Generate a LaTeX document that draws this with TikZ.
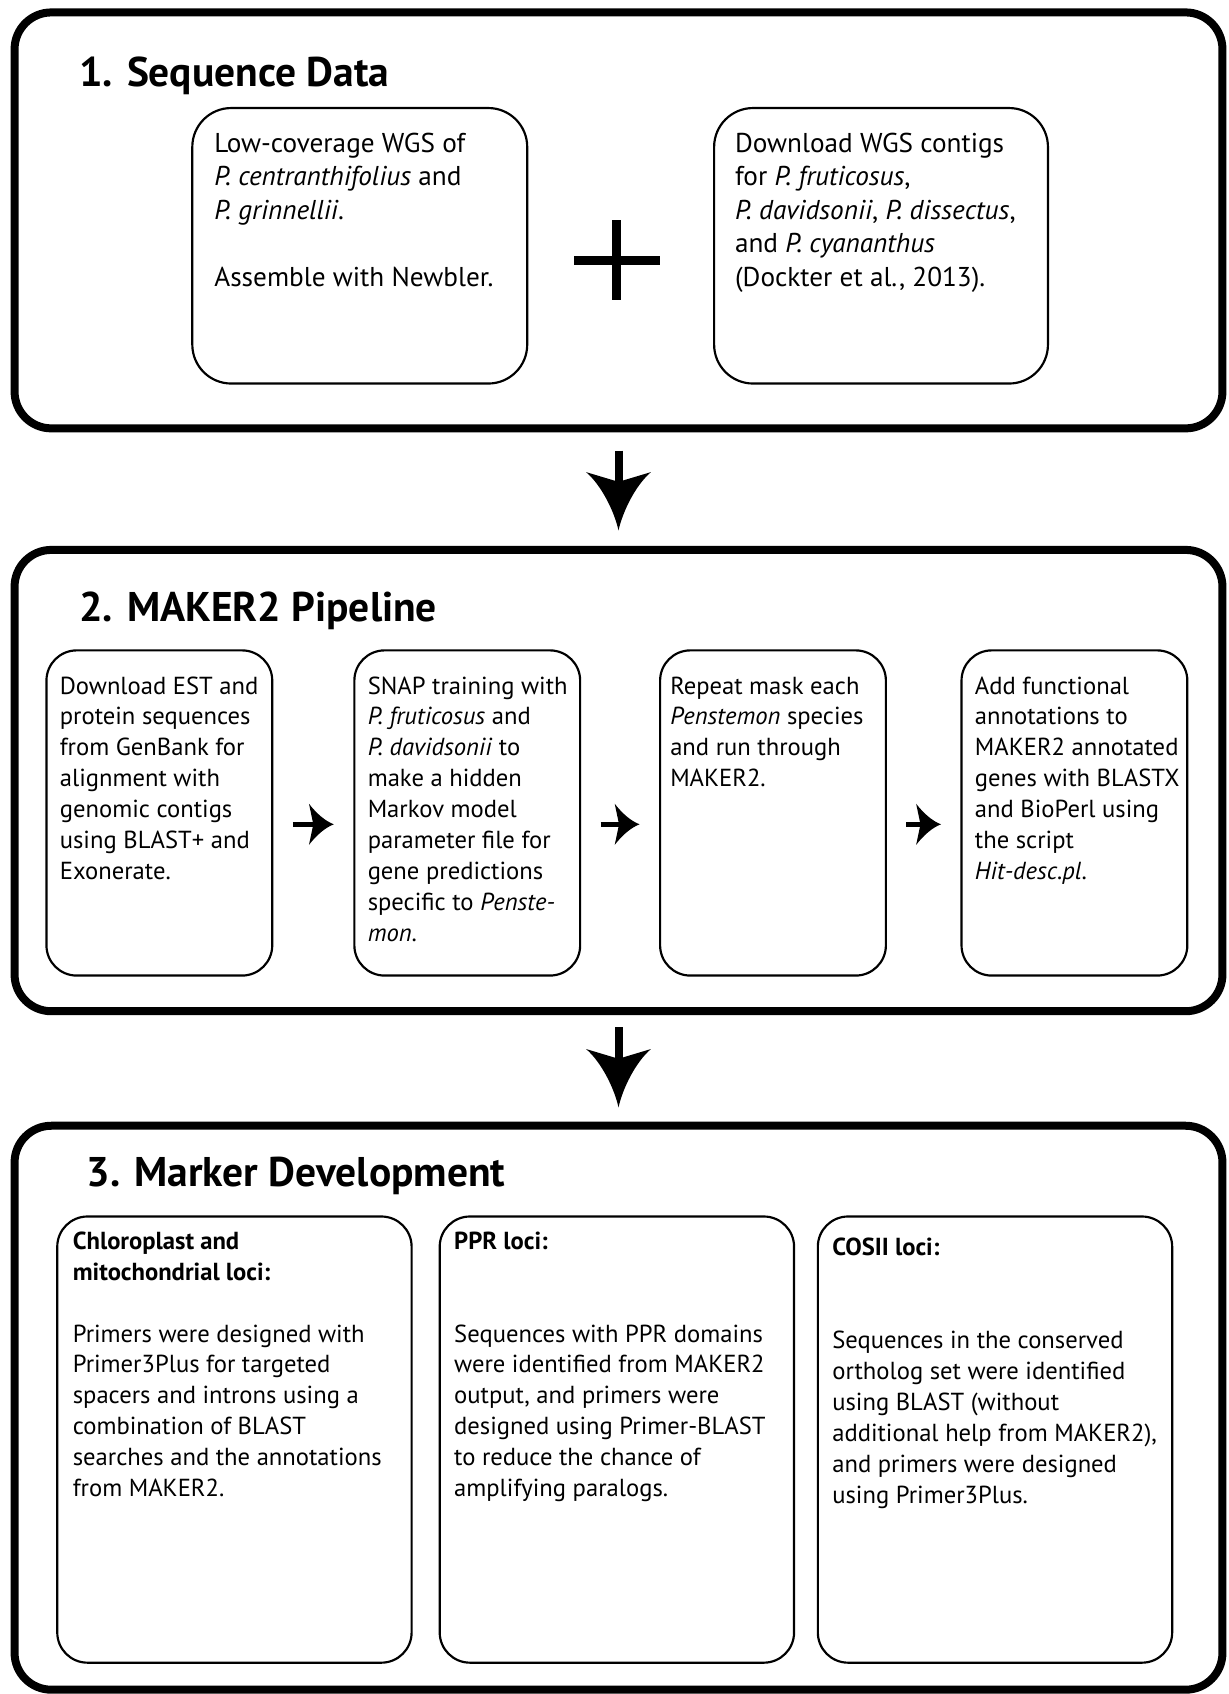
\documentclass[tikz,border=0pt]{standalone}
\usepackage{fontspec}
\setmainfont{PT Sans}
\newcommand{\myBigHead}[1]{\fill[shift={(#1)}] (0,0) .. controls (-4,-18) and (-16,-42) .. (-30,-54) -- (0,-45) -- (30,-54) .. controls (16,-42) and (4,-18) .. (0,0) -- cycle;}
\newcommand{\mySmallHead}[1]{\fill[shift={(#1)}] (0,0) .. controls (-8,-3) and (-16,-10) .. (-23,-19) -- (-19,0) -- (-23,19) .. controls (-16,10) and (-8,3) .. (0,0) -- cycle;}
\begin{document}
\begin{tikzpicture}[x=0.5pt,y=-0.5pt,
  outerbox/.style={draw, line width=3.7pt, rounded corners=17pt, inner sep=0pt, outer sep=0pt},
  inboxA/.style={draw, line width=1pt, rounded corners=18pt, inner sep=0pt, outer sep=0pt},
  inboxB/.style={draw, line width=1pt, rounded corners=14pt, inner sep=0pt, outer sep=0pt},
  titletext/.style={font=\fontsize{19.2}{23}\selectfont\bfseries, anchor=base west, inner sep=0pt},
  bodytext/.style={anchor=north west, inner sep=0pt, align=left, font=\fontsize{11.4}{14.3}\selectfont},
  bigtext/.style={anchor=north west, inner sep=0pt, align=left, font=\fontsize{12.6}{15.5}\selectfont},
  bigshaft/.style={line width=3.7pt},
  smallshaft/.style={line width=2.5pt}
]
\useasboundingbox (0,0) rectangle (1137,1568);

% outer panels
\node[outerbox, minimum width=559pt, minimum height=192.5pt] (s1) at (572.5,204) {};
\node[outerbox, minimum width=559pt, minimum height=213.5pt] (s2) at (572.5,722.5) {};
\node[outerbox, minimum width=559pt, minimum height=261pt] (s3) at (572.5,1303) {};

% titles
\node[titletext] (t1) at (73,80) {1. Sequence Data};
\node[titletext] (t2) at (73,575) {2. MAKER2 Pipeline};
\node[titletext] (t3) at (80,1098) {3. Marker Development};

% panel 1
\node[inboxA, minimum width=155pt, minimum height=127.5pt] (a1) at (333,227.5) {};
\node[inboxA, minimum width=154.5pt, minimum height=127.5pt] (a2) at (815.5,227.5) {};
\node[bigtext] (a1t) at (198,119) {\strut Low-coverage WGS of\\ \textit{P. centranthifolius} and\\ \textit{P. grinnellii}.\\ \mbox{}\\ Assemble with Newbler.};
\node[bigtext] (a2t) at (680,119) {\strut Download WGS contigs\\ for \textit{P. fruticosus},\\ \textit{P. davidsonii}, \textit{P. dissectus},\\ and \textit{P. cyananthus}\\ (Dockter et al., 2013).};
\coordinate (plus) at (571,241);
\draw[line width=4.2pt] ([xshift=-19.75pt]plus) -- ([xshift=19.75pt]plus);
\draw[line width=4.2pt] ([yshift=18.5pt]plus) -- ([yshift=-18.5pt]plus);

% panel 2
\node[inboxB, minimum width=104.5pt, minimum height=150.5pt] (b1) at (147.5,752.5) {};
\node[inboxB, minimum width=104.5pt, minimum height=150.5pt] (b2) at (432.5,752.5) {};
\node[inboxB, minimum width=104.5pt, minimum height=150.5pt] (b3) at (715.5,752.5) {};
\node[inboxB, minimum width=104.5pt, minimum height=150.5pt] (b4) at (994.5,752.5) {};
\node[bodytext] (b1t) at (55,622) {\strut Download EST and\\ protein sequences\\ from GenBank for\\ alignment with\\ genomic contigs\\ using BLAST+ and\\ Exonerate.};
\node[bodytext] (b2t) at (340,622) {\strut SNAP training with\\ \textit{P. fruticosus} and\\ \textit{P. davidsonii} to\\ make a hidden\\ Markov model\\ parameter file for\\ gene predictions\\ specific to \textit{Penste-}\\ \textit{mon}.};
\node[bodytext] (b3t) at (620,622) {\strut Repeat mask each\\ \textit{Penstemon} species\\ and run through\\ MAKER2.};
\node[bodytext] (b4t) at (902,622) {\strut Add functional\\ annotations to\\ MAKER2 annotated\\ genes with BLASTX\\ and BioPerl using\\ the script\\ \textit{Hit-desc.pl}.};

\coordinate (h12) at ([xshift=-9.5pt,yshift=-5.25pt]b2.west);
\coordinate (h23) at ([xshift=-9.5pt,yshift=-5.25pt]b3.west);
\coordinate (h34) at ([xshift=-9.5pt,yshift=-5.25pt]b4.west);
\draw[smallshaft, shorten <=9.5pt, shorten >=17pt] ([yshift=-5.25pt]b1.east) -- ([yshift=-5.25pt]b2.west);
\draw[smallshaft, shorten <=9.5pt, shorten >=17pt] ([yshift=-5.25pt]b2.east) -- ([yshift=-5.25pt]b3.west);
\draw[smallshaft, shorten <=9.5pt, shorten >=17pt] ([yshift=-5.25pt]b3.east) -- ([yshift=-5.25pt]b4.west);
\mySmallHead{h12}
\mySmallHead{h23}
\mySmallHead{h34}

% panel 3
\node[inboxB, minimum width=164pt, minimum height=206.5pt] (c1) at (217,1332.5) {};
\node[inboxB, minimum width=164pt, minimum height=206.5pt] (c2) at (571,1332.5) {};
\node[inboxB, minimum width=164pt, minimum height=206.5pt] (c3) at (921,1332.5) {};
\node[bodytext] (c1t) at (67,1136) {\strut\textbf{Chloroplast and}\\ \textbf{mitochondrial loci:}\\ \mbox{}\\ Primers were designed with\\ Primer3Plus for targeted\\ spacers and introns using a\\ combination of BLAST\\ searches and the annotations\\ from MAKER2.};
\node[bodytext] (c2t) at (420,1136) {\strut\textbf{PPR loci:}\\ \mbox{}\\ \mbox{}\\ Sequences with PPR domains\\ were identified from MAKER2\\ output, and primers were\\ designed using Primer-BLAST\\ to reduce the chance of\\ amplifying paralogs.};
\node[bodytext] (c3t) at (770,1142) {\strut\textbf{COSII loci:}\\ \mbox{}\\ \mbox{}\\ Sequences in the conserved\\ ortholog set were identified\\ using BLAST (without\\ additional help from MAKER2),\\ and primers were designed\\ using Primer3Plus.};

% arrows between panels
\coordinate (tipA) at ([yshift=9pt]s2.north);
\coordinate (tipB) at ([yshift=8.5pt]s3.north);
\draw[bigshaft, shorten <=10.25pt, shorten >=29pt] (s1.south) -- (s2.north);
\draw[bigshaft, shorten <=7.5pt, shorten >=29pt] (s2.south) -- (s3.north);
\myBigHead{tipA}
\myBigHead{tipB}
\end{tikzpicture}
\end{document}
